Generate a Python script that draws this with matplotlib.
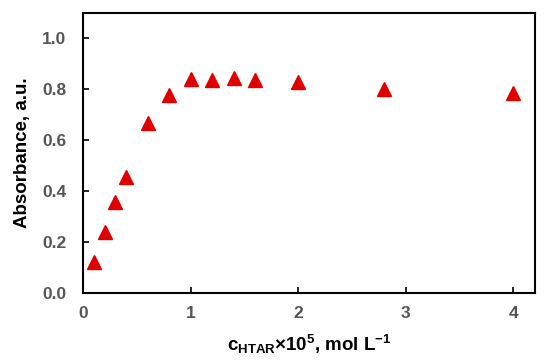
import matplotlib
matplotlib.use("Agg")
import matplotlib.pyplot as plt

conc = [0.1, 0.2, 0.3, 0.4, 0.6, 0.8, 1.0, 1.2, 1.4, 1.6, 2.0, 2.8, 4.0]
absorbance = [0.12, 0.24, 0.357, 0.454, 0.668, 0.777, 0.841, 0.838, 0.844, 0.835, 0.829, 0.80, 0.786]
xticks = [0, 1, 2, 3, 4]
yticks = [0.0, 0.2, 0.4, 0.6, 0.8, 1.0]

plt.rcParams['font.family'] = ['Liberation Sans', 'DejaVu Sans']
plt.rcParams['mathtext.fontset'] = 'custom'
plt.rcParams['mathtext.rm'] = 'Liberation Sans:bold'
plt.rcParams['mathtext.bf'] = 'Liberation Sans:bold'
plt.rcParams['mathtext.it'] = 'Liberation Sans:bold'
plt.rcParams['mathtext.default'] = 'rm'

fig = plt.figure(figsize=(5.5, 3.61), dpi=100)
ax = fig.add_axes([83/550, 1 - 293/361, (535-83)/550, (293-13)/361])

ax.plot(conc, absorbance, linestyle='none', marker='^', markersize=9.5,
        color='#E00000', markeredgecolor='#E00000')

ax.set_xlim(0, 4.2)
ax.set_ylim(0, 1.1)
ax.set_xticks(xticks)
ax.set_xticklabels([str(t) for t in xticks], fontweight='bold')
ax.set_yticks(yticks)
ax.set_yticklabels([f"{t:.1f}" for t in yticks], fontweight='bold')
ax.tick_params(direction='in', length=4, width=1.2, labelsize=12.5,
               labelcolor='#555555')
ax.tick_params(axis='y', pad=12)
ax.tick_params(axis='x', pad=9)
for s in ax.spines.values():
    s.set_linewidth(1.5)
    s.set_color('black')

ax.set_ylabel('Absorbance, a.u.', fontsize=13.5, fontweight='bold', labelpad=8)
ax.set_xlabel(r'$c_{HTAR}$×10$^{5}$, mol L$^{-1}$', fontsize=13.5,
              fontweight='bold', labelpad=9)

fig.savefig('out.png', dpi=100)
